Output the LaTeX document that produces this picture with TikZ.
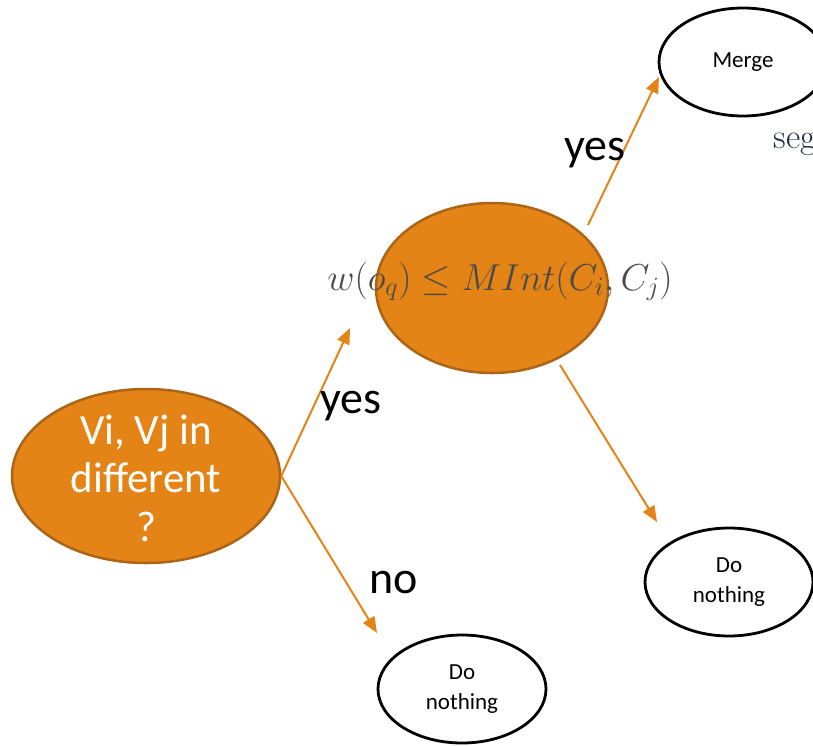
\documentclass[tikz,border=0pt]{standalone}
\usepackage{fix-cm}
\usepackage{fontspec}
\setmainfont{Carlito}
\newfontfamily\lmserif{Latin Modern Roman}
\usetikzlibrary{shapes.geometric,arrows.meta}
\definecolor{flowOrange}{RGB}{228,131,22}
\definecolor{flowBorder}{RGB}{172,100,22}
\definecolor{mathGray}{RGB}{75,75,75}
\definecolor{segBlue}{RGB}{35,45,70}

\begin{document}
\begin{tikzpicture}[x=1pt,y=-1pt,
    decision/.style={ellipse, fill=flowOrange, draw=flowBorder, line width=2.5pt, inner sep=0pt},
    outcome/.style={ellipse, draw=black, line width=2.8pt, fill=white, align=center, inner sep=0pt,
      minimum width=168pt, minimum height=108pt, font=\fontsize{23}{30}\selectfont},
    flow/.style={-{Triangle[length=16pt,width=13pt]}, draw=flowOrange, line width=2pt},
    answer/.style={anchor=base, font=\fontsize{46}{50}\selectfont}]
  \useasboundingbox (0,0) rectangle (813,745);

  % decisions
  \node[decision, minimum width=268pt, minimum height=174pt] (diff) at (146,476) {};
  \node[align=center, text=white, font=\fontsize{43}{48.5}\selectfont] (difftext) at (146,478) {Vi, Vj in\\different\\?};
  \node[decision, minimum width=232pt, minimum height=170pt] (cond) at (492,288) {};
  \node[anchor=base, text=mathGray, font=\fontsize{37.5}{44}\selectfont] (condtext) at (500,290)
    {$w(o_q) \leq MInt(C_i, C_j)$};

  % outcomes
  \node[outcome] (merge) at (743,62) {Merge};
  \node[outcome] (skipA) at (729,582) {Do\\nothing};
  \node[outcome] (skipB) at (462,689) {Do\\nothing};
  \node[anchor=base west, text=segBlue, font=\lmserif\fontsize{35}{42}\selectfont] (seg) at (770,148) {seg};

  % free ends of the arrows
  \coordinate (condIn) at (350,328);
  \coordinate (skipBIn) at (377,633);
  \coordinate (condUp) at (588,225);
  \coordinate (mergeIn) at (659,77);
  \coordinate (condDown) at (560,365);
  \coordinate (skipAIn) at (657,522);

  \draw[flow] (diff.east) -- (condIn);
  \draw[flow] (diff.east) -- (skipBIn);
  \draw[flow] (condUp) -- (mergeIn);
  \draw[flow] (condDown) -- (skipAIn);

  \node[answer] (yesA) at (351,413) {yes};
  \node[answer] (noA) at (394,593) {no};
  \node[answer] (yesB) at (595,160) {yes};
\end{tikzpicture}
\end{document}
